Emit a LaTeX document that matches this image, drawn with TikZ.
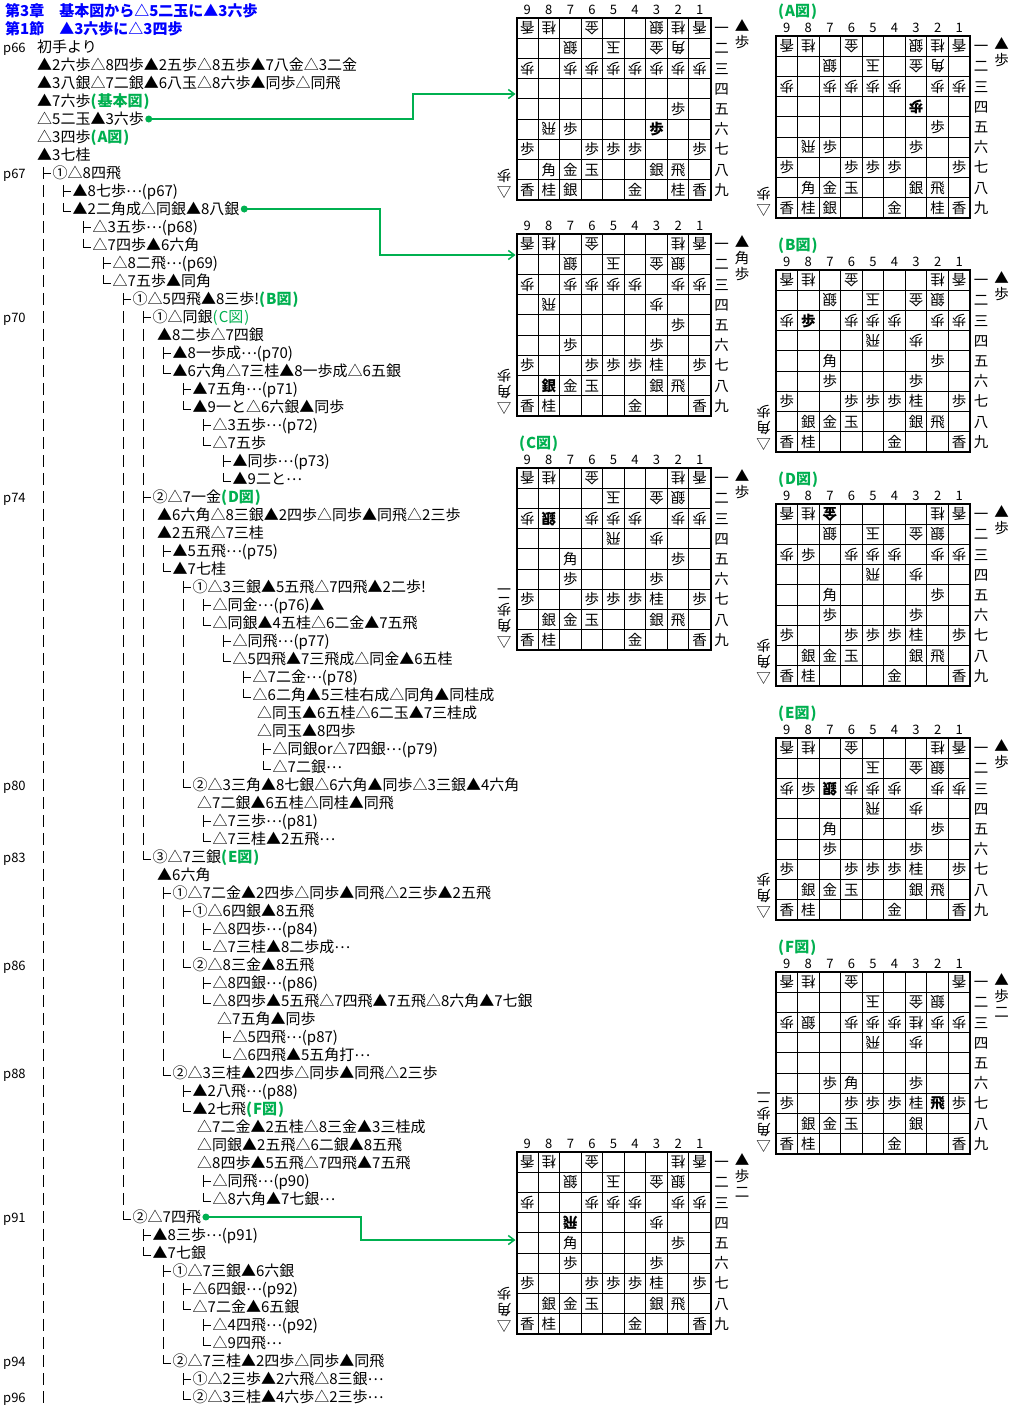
\documentclass[tikz,border=0pt]{standalone}
\usepackage{fontspec}
\setmainfont{Noto Sans CJK JP}
\usetikzlibrary{arrows.meta, positioning}

\definecolor{zugreen}{HTML}{00B050}
\newcommand{\zu}[1]{{\color{zugreen}\bfseries(\kern1pt #1\kern1pt)}}
\newcommand{\zulight}[1]{{\color{zugreen}(\kern1pt #1\kern1pt)}}
\newcommand{\dts}{\raisebox{4pt}{…}}

\tikzset{
    mvline/.style={anchor=west, inner sep=0pt, text height=13pt, text depth=2pt, font=\fontsize{15}{15}\selectfont},
    heading/.style={mvline, text=blue, font=\fontsize{15}{15}\selectfont\bfseries},
    pagemark/.style={mvline, font=\fontsize{13}{13}\selectfont},
    zulabel/.style={mvline, text=zugreen, font=\fontsize{15}{15}\selectfont\bfseries},
    treeline/.style={line width=1pt},
    piecemark/.style={inner sep=0pt, text height=12.5pt, text depth=1.5pt, font=\fontsize{14.5}{15}\selectfont},
    sentepiece/.style={piecemark},
    gotepiece/.style={piecemark, rotate=180},
    filelabel/.style={inner sep=0pt, font=\fontsize{13}{13}\selectfont},
    ranklabel/.style={piecemark},
    gridline/.style={line width=0.9pt},
    boardframe/.style={line width=2pt},
    greendot/.style={circle, fill=zugreen, inner sep=0pt, minimum size=7pt},
    zulink/.style={draw=zugreen, line width=1.5pt, -{Straight Barb[length=6pt, width=9pt]}},
}

% drawing a mark for one line of the tree
\newcommand{\markplain}[2]{}
\newcommand{\marktee}[2]{\draw[treeline] ({#1-9.5},{#2-6}) -- ({#1-9.5},{#2+6}) ({#1-9.5},#2) -- ({#1-1.5},#2);}
\newcommand{\markelbow}[2]{\draw[treeline] ({#1-9.5},{#2-6}) -- ({#1-9.5},{#2+2}) -- ({#1-1.5},{#2+2});}

% name, left, top, gote pieces, sente pieces, sente hand, gote hand
\newcommand{\shogiboard}[7]{
    \begin{scope}[shift={(#2,#3)}]
        \foreach \i in {1,...,8} {
            \draw[gridline] ({\i*21.55},0) -- ({\i*21.55},182);
            \draw[gridline] (0,{\i*20.22}) -- (194,{\i*20.22});
        }
        \draw[boardframe] (0,0) rectangle (194,182);
        \foreach \col in {1,...,9} {
            \node[filelabel] (#1-f\col) at ({(9.5-\col)*21.55},-8.5) {\col};
        }
        \foreach \rw/\kj in {1/一,2/二,3/三,4/四,5/五,6/六,7/七,8/八,9/九} {
            \node[ranklabel] (#1-r\rw) at (205,{(\rw-0.5)*20.22}) {\kj};
        }
        \foreach \col/\rw/\pc in #4 {
            \node[gotepiece] (#1-\col\rw) at ({(9.5-\col)*21.55},{(\rw-0.5)*20.22}) {\pc};
        }
        \foreach \col/\rw/\pc in #5 {
            \node[sentepiece] (#1-\col\rw) at ({(9.5-\col)*21.55},{(\rw-0.5)*20.22}) {\pc};
        }
        \foreach \pc [count=\i] in {▲,#6} {
            \node[sentepiece] (#1-sh\i) at (225.5,{8+16*(\i-1)}) {\pc};
        }
        % the white triangle turned over, like the pieces of this side
        \foreach \pc [count=\i] in {△,#7} {
            \node[gotepiece] (#1-gh\i) at (-12.5,{174-16*(\i-1)}) {\pc};
        }
    \end{scope}
}

% positions
\edef\lowerA{9/7/歩,6/7/歩,5/7/歩,4/7/歩,1/7/歩,8/8/角,7/8/金,6/8/玉,3/8/銀,2/8/飛,9/9/香,8/9/桂,7/9/銀,4/9/金,2/9/桂,1/9/香}
\edef\lowerB{9/7/歩,6/7/歩,5/7/歩,4/7/歩,3/7/桂,1/7/歩,8/8/銀,7/8/金,6/8/玉,3/8/銀,2/8/飛,9/9/香,8/9/桂,4/9/金,1/9/香}
\edef\upperB{9/1/香,8/1/桂,2/1/桂,1/1/香,5/2/玉,3/2/金,2/2/銀,9/3/歩,6/3/歩,5/3/歩,4/3/歩,2/3/歩,1/3/歩,3/4/歩}

\edef\goteMain{9/1/香,8/1/桂,6/1/金,3/1/銀,2/1/桂,1/1/香,7/2/銀,5/2/玉,3/2/金,2/2/角,9/3/歩,7/3/歩,6/3/歩,5/3/歩,4/3/歩,3/3/歩,2/3/歩,1/3/歩,8/6/飛}
\edef\senteMain{2/5/歩,7/6/歩,3/6/\noexpand\bfseries 歩,\lowerA}
\edef\goteFigA{9/1/香,8/1/桂,6/1/金,3/1/銀,2/1/桂,1/1/香,7/2/銀,5/2/玉,3/2/金,2/2/角,9/3/歩,7/3/歩,6/3/歩,5/3/歩,4/3/歩,2/3/歩,1/3/歩,3/4/\noexpand\bfseries 歩,8/6/飛}
\edef\senteFigA{2/5/歩,7/6/歩,3/6/歩,\lowerA}
\edef\goteSecond{\upperB,6/1/金,7/2/銀,7/3/歩,8/4/飛}
\edef\senteSecond{2/5/歩,7/6/歩,3/6/歩,9/7/歩,6/7/歩,5/7/歩,4/7/歩,3/7/桂,1/7/歩,8/8/\noexpand\bfseries 銀,7/8/金,6/8/玉,3/8/銀,2/8/飛,9/9/香,8/9/桂,4/9/金,1/9/香}
\edef\goteFigB{\upperB,6/1/金,7/2/銀,5/4/飛}
\edef\senteFigB{8/3/\noexpand\bfseries 歩,7/5/角,2/5/歩,7/6/歩,3/6/歩,\lowerB}
\edef\goteFigC{\upperB,6/1/金,8/3/\noexpand\bfseries 銀,5/4/飛}
\edef\senteFigC{7/5/角,2/5/歩,7/6/歩,3/6/歩,\lowerB}
\edef\goteFigD{\upperB,7/1/\noexpand\bfseries 金,7/2/銀,5/4/飛}
\edef\senteFigD{8/3/歩,7/5/角,2/5/歩,7/6/歩,3/6/歩,\lowerB}
\edef\goteFigE{\upperB,6/1/金,7/3/\noexpand\bfseries 銀,5/4/飛}
\edef\senteFigE{8/3/歩,7/5/角,2/5/歩,7/6/歩,3/6/歩,\lowerB}
\edef\goteFigF{9/1/香,8/1/桂,6/1/金,1/1/香,5/2/玉,3/2/金,2/2/銀,9/3/歩,8/3/銀,6/3/歩,5/3/歩,4/3/歩,3/3/桂,2/3/歩,1/3/歩,5/4/飛,3/4/歩}
\edef\senteFigF{7/6/歩,6/6/角,3/6/歩,9/7/歩,6/7/歩,5/7/歩,4/7/歩,3/7/桂,2/7/\noexpand\bfseries 飛,1/7/歩,8/8/銀,7/8/金,6/8/玉,3/8/銀,9/9/香,8/9/桂,4/9/金,1/9/香}
\edef\goteThird{\upperB,6/1/金,7/2/銀,7/4/\noexpand\bfseries 飛}
\edef\senteThird{7/5/角,2/5/歩,7/6/歩,3/6/歩,\lowerB}

\begin{document}
\begin{tikzpicture}[x=1pt, y=-1pt]
    \useasboundingbox[fill=white] (0,0) rectangle (1015,1405);

    % headings
    \node[heading] (title1) at (5,11) {第3章　基本図から△5二玉に▲3六歩};
    \node[heading] (title2) at (5,29) {第1節　▲3六歩に△3四歩};

    % page numbers
    \foreach \rw/\tx in {2/p66,9/p67,17/p70,27/p74,43/p80,47/p83,53/p86,59/p88,67/p91,75/p94,77/p96} {
        \node[pagemark] (page\rw) at (3,{11+18*\rw}) {\tx};
    }

    % long bars of the tree
    \foreach \xx/\ra/\rb in {43/10/77,123/17/66,143/18/26,143/28/46,163/50/58,163/71/74,183/33/42,183/51/52} {
        \draw[treeline, dash pattern=on 12pt off 6pt] (\xx,{5+18*\ra}) -- (\xx,{17+18*\rb});
    }

    % the moves, one line per row
    \foreach \kind/\xx/\tx [count=\rw from 2] in {
        plain/37/初手より,
        plain/37/▲2六歩△8四歩▲2五歩△8五歩▲7八金△3二金,
        plain/37/▲3八銀△7二銀▲6八玉△8六歩▲同歩△同飛,
        plain/37/▲7六歩\zu{基本図},
        plain/37/△5二玉▲3六歩,
        plain/37/△3四歩\zu{A図},
        plain/37/▲3七桂,
        tee/52.5/①△8四飛,
        tee/72.5/▲8七歩\dts(p67),
        elbow/72.5/▲2二角成△同銀▲8八銀,
        tee/92.5/△3五歩\dts(p68),
        elbow/92.5/△7四歩▲6六角,
        tee/112.5/△8二飛\dts(p69),
        elbow/112.5/△7五歩▲同角,
        tee/132.5/①△5四飛▲8三歩!\zu{B図},
        tee/152.5/①△同銀\zulight{C図},
        plain/157/▲8二歩△7四銀,
        tee/172.5/▲8一歩成\dts(p70),
        elbow/172.5/▲6六角△7三桂▲8一歩成△6五銀,
        tee/192.5/▲7五角\dts(p71),
        elbow/192.5/▲9一と△6六銀▲同歩,
        tee/212.5/△3五歩\dts(p72),
        elbow/212.5/△7五歩,
        tee/232.5/▲同歩\dts(p73),
        elbow/232.5/▲9二と\dts,
        tee/152.5/②△7一金\zu{D図},
        plain/157/▲6六角△8三銀▲2四歩△同歩▲同飛△2三歩,
        plain/157/▲2五飛△7三桂,
        tee/172.5/▲5五飛\dts(p75),
        elbow/172.5/▲7七桂,
        tee/192.5/①△3三銀▲5五飛△7四飛▲2二歩!,
        tee/212.5/△同金\dts(p76)▲,
        elbow/212.5/△同銀▲4五桂△6二金▲7五飛,
        tee/232.5/△同飛\dts(p77),
        elbow/232.5/△5四飛▲7三飛成△同金▲6五桂,
        tee/252.5/△7二金\dts(p78),
        elbow/252.5/△6二角▲5三桂右成△同角▲同桂成,
        plain/257/△同玉▲6五桂△6二玉▲7三桂成,
        plain/257/△同玉▲8四歩,
        tee/272.5/△同銀or△7四銀\dts(p79),
        elbow/272.5/△7二銀\dts,
        elbow/192.5/②△3三角▲8七銀△6六角▲同歩△3三銀▲4六角,
        plain/197/△7二銀▲6五桂△同桂▲同飛,
        tee/212.5/△7三歩\dts(p81),
        elbow/212.5/△7三桂▲2五飛\dts,
        elbow/152.5/③△7三銀\zu{E図},
        plain/157/▲6六角,
        tee/172.5/①△7二金▲2四歩△同歩▲同飛△2三歩▲2五飛,
        tee/192.5/①△6四銀▲8五飛,
        tee/212.5/△8四歩\dts(p84),
        elbow/212.5/△7三桂▲8二歩成\dts,
        elbow/192.5/②△8三金▲8五飛,
        tee/212.5/△8四銀\dts(p86),
        elbow/212.5/△8四歩▲5五飛△7四飛▲7五飛△8六角▲7七銀,
        plain/217/△7五角▲同歩,
        tee/232.5/△5四飛\dts(p87),
        elbow/232.5/△6四飛▲5五角打\dts,
        elbow/172.5/②△3三桂▲2四歩△同歩▲同飛△2三歩,
        tee/192.5/▲2八飛\dts(p88),
        elbow/192.5/▲2七飛\zu{F図},
        plain/197/△7二金▲2五桂△8三金▲3三桂成,
        plain/197/△同銀▲2五飛△6二銀▲8五飛,
        plain/197/△8四歩▲5五飛△7四飛▲7五飛,
        tee/212.5/△同飛\dts(p90),
        elbow/212.5/△8六角▲7七銀\dts,
        elbow/132.5/②△7四飛,
        tee/152.5/▲8三歩\dts(p91),
        elbow/152.5/▲7七銀,
        tee/172.5/①△7三銀▲6六銀,
        tee/192.5/△6四銀\dts(p92),
        elbow/192.5/△7二金▲6五銀,
        tee/212.5/△4四飛\dts(p92),
        elbow/212.5/△9四飛\dts,
        elbow/172.5/②△7三桂▲2四歩△同歩▲同飛,
        tee/192.5/①△2三歩▲2六飛△8三銀\dts,
        elbow/192.5/②△3三桂▲4六歩△2三歩\dts%
    } {
        \pgfmathsetmacro{\yy}{11+18*\rw}
        \node[mvline] (m\rw) at (\xx,\yy) {\tx};
        \csname mark\kind\endcsname{\xx}{\yy}
    }

    % boards of the middle column
    \shogiboard{bMain}{516.5}{18}{\goteMain}{\senteMain}{歩}{歩}
    \shogiboard{bSecond}{516.5}{234}{\goteSecond}{\senteSecond}{角,歩}{角,歩}
    \shogiboard{bC}{516.5}{468}{\goteFigC}{\senteFigC}{歩}{角,歩,二}
    \shogiboard{bThird}{516.5}{1152}{\goteThird}{\senteThird}{歩,二}{角,歩}

    % boards of the right column
    \shogiboard{bA}{776}{36}{\goteFigA}{\senteFigA}{歩}{歩}
    \shogiboard{bB}{776}{270}{\goteFigB}{\senteFigB}{歩}{角,歩}
    \shogiboard{bD}{776}{504}{\goteFigD}{\senteFigD}{歩}{角,歩}
    \shogiboard{bE}{776}{738}{\goteFigE}{\senteFigE}{歩}{角,歩}
    \shogiboard{bF}{776}{972}{\goteFigF}{\senteFigF}{歩,二}{角,歩,二}

    % board titles
    \node[zulabel] (zuA) at (778,11) {\zu{A図}};
    \node[zulabel] (zuB) at (778,245) {\zu{B図}};
    \node[zulabel] (zuC) at (519,443) {\zu{C図}};
    \node[zulabel] (zuD) at (778,479) {\zu{D図}};
    \node[zulabel] (zuE) at (778,713) {\zu{E図}};
    \node[zulabel] (zuF) at (778,947) {\zu{F図}};

    % green links to the boards
    \node[greendot, right=1pt of m6] (dotA) {};
    \node[greendot, right=1pt of m11] (dotB) {};
    \node[greendot, right=1pt of m67] (dotC) {};
    \coordinate (tipA) at (515.5,94);
    \coordinate (tipB) at (515.5,255);
    \coordinate (tipC) at (515.5,1240);
    \coordinate (bendA) at (413,94);
    \coordinate (bendB) at (380,255);
    \coordinate (bendC) at (361,1240);
    \draw[zulink] (dotA.center) -| (bendA) -- (tipA);
    \draw[zulink] (dotB.center) -| (bendB) -- (tipB);
    \draw[zulink] (dotC.center) -| (bendC) -- (tipC);
\end{tikzpicture}
\end{document}
